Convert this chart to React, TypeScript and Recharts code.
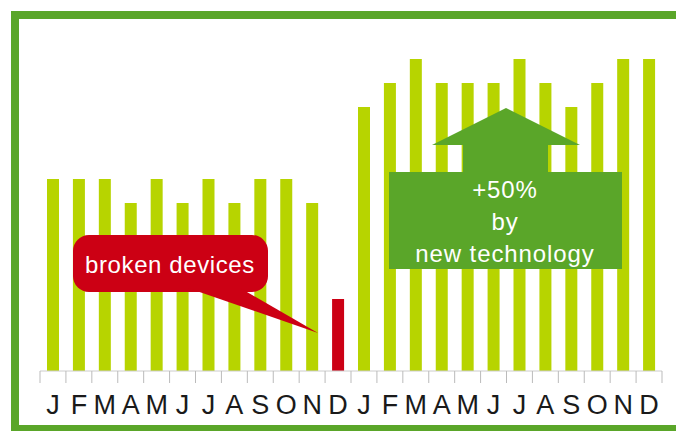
import React from "react";
import { BarChart, Bar, XAxis, YAxis, Cell } from "recharts";

const months = ["J","F","M","A","M","J","J","A","S","O","N","D","J","F","M","A","M","J","J","A","S","O","N","D"];
const values = [8,8,8,7,8,7,8,7,8,8,7,3,11,12,13,12,12,12,13,12,11,12,13,13];
const broken = [false,false,false,false,false,false,false,false,false,false,false,true,false,false,false,false,false,false,false,false,false,false,false,false];

const data = months.map((m, i) => ({ key: `${m}${i}`, month: m, value: values[i], broken: broken[i] }));

const W = 676, H = 431;
const M = { top: 35, right: 14, bottom: 30, left: 40 };
const BW = (W - M.left - M.right) / months.length;

const LIME = "#b7d400";
const RED = "#cc0014";
const GREEN = "#5aa629";

const Tick = (props: any) => {
  const { x, y, index, payload } = props;
  const last = index === months.length - 1;
  return (
    <g>
      <line x1={x - BW / 2} y1={y} x2={x - BW / 2} y2={y + 12} stroke="#bbbbbb" strokeWidth={1} />
      {last && <line x1={x + BW / 2} y1={y} x2={x + BW / 2} y2={y + 12} stroke="#bbbbbb" strokeWidth={1} />}
      <text x={x} y={y + 43} textAnchor="middle" fontSize={27} fontFamily="Liberation Sans, Arial, sans-serif" fill="#1a1a1a">
        {months[index] ?? payload.value}
      </text>
    </g>
  );
};

export default function App() {
  return (
    <div style={{ position: "absolute", left: 0, top: 0, width: W, height: H, background: "#fff", overflow: "hidden" }}>
      <BarChart width={W} height={H} data={data} margin={M} barSize={12}>
        <YAxis hide domain={[0, 14]} />
        <XAxis dataKey="key" height={30} tickSize={0} tickMargin={0} interval={0} tick={<Tick />} axisLine={{ stroke: "#cccccc" }} tickLine={false} />
        <Bar dataKey="value" isAnimationActive={false}>
          {data.map((d) => (
            <Cell key={d.key} fill={d.broken ? RED : LIME} />
          ))}
        </Bar>
      </BarChart>
      <svg width={W} height={H} style={{ position: "absolute", left: 0, top: 0, pointerEvents: "none" }}>
        <rect x={15} y={15} width={W + 20} height={414} fill="none" stroke={GREEN} strokeWidth={8} />
        <rect x={73} y={235} width={195} height={57} rx={16} ry={16} fill={RED} />
        <polygon points="188,288 240,288 318,333" fill={RED} />
        <text x={170} y={273} textAnchor="middle" fontSize={24} letterSpacing={0.6} fontFamily="Liberation Sans, Arial, sans-serif" fill="#fff">broken devices</text>
        <polygon points="389,172 463,172 463,145 432,145 506,108 580,145 548,145 548,172 622,172 622,269 389,269" fill={GREEN} />
        <g fontSize={24} letterSpacing={0.9} fontFamily="Liberation Sans, Arial, sans-serif" fill="#fff" textAnchor="middle">
          <text x={505} y={198}>+50%</text>
          <text x={505} y={230}>by</text>
          <text x={505} y={262}>new technology</text>
        </g>
      </svg>
    </div>
  );
}
